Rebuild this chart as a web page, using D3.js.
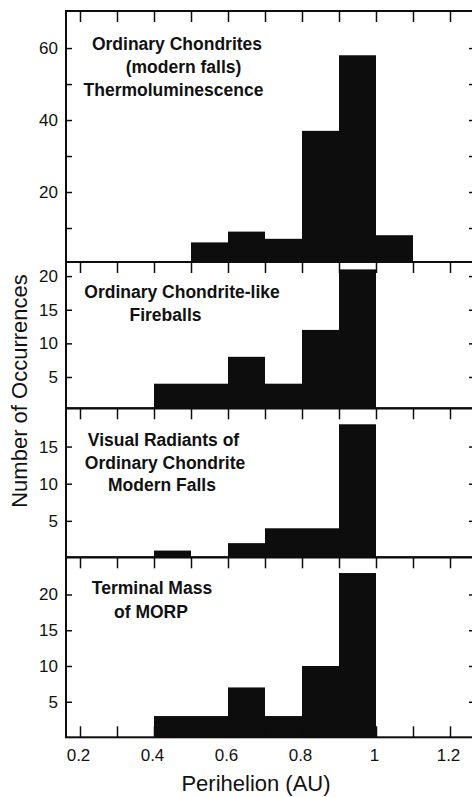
<!DOCTYPE html>
<html>
<head>
<meta charset="utf-8">
<script src="https://cdn.jsdelivr.net/npm/d3@7"></script>
<style>
  html, body { margin: 0; padding: 0; background: #fff; }
  svg { display: block; }
  text { font-family: "Liberation Sans", Arial, Helvetica, sans-serif; fill: #111; }
</style>
</head>
<body>
<svg id="chart" width="472" height="797"></svg>
<script>
// ---------------- data ----------------
const binStarts = [0.4, 0.5, 0.6, 0.7, 0.8, 0.9, 1.0];
const binWidth = 0.1;
const thermoCounts   = [0, 6, 9, 7, 37, 58, 8];
const fireballCounts = [4, 4, 8, 4, 12, 21, 0];
const radiantCounts  = [1, 0, 2, 4, 4, 18, 0];
const morpCounts     = [3, 3, 7, 3, 10, 23, 0];

const thermoTitle   = ["Ordinary Chondrites", "(modern falls)", "Thermoluminescence"];
const fireballTitle = ["Ordinary Chondrite-like", "Fireballs"];
const radiantTitle  = ["Visual Radiants of", "Ordinary Chondrite", "Modern Falls"];
const morpTitle     = ["Terminal Mass", "of MORP"];

const thermoYMajor = [20, 40, 60];
const thermoYMinor = [10, 30, 50];
const fireballYTicks = [5, 10, 15, 20];
const radiantYTicks  = [5, 10, 15];
const morpYTicks     = [5, 10, 15, 20];
const yMaxes = [70.3, 22.1, 20.15, 25.2];

const xTickValues = [0.2, 0.3, 0.4, 0.5, 0.6, 0.7, 0.8, 0.9, 1.0, 1.1, 1.2];
const xLabelValues = [0.2, 0.4, 0.6, 0.8, 1.0, 1.2];
const xLabelTexts  = ["0.2", "0.4", "0.6", "0.8", "1", "1.2"];
const xTitle = "Perihelion (AU)";
const yTitle = "Number of Occurrences";

// ---------------- layout ----------------
const frameLeft = 66, frameRight = 478;
const panelTops    = [11, 262, 408.3, 557.3];
const panelBottoms = [262, 408.3, 557.3, 737.3];
const zeroYs       = [264, 410.6, 558, 737.5];
const titleLayout = [
  { xs: [177, 183.5, 173.5], ys: [50, 73, 96] },
  { xs: [182, 165.5], ys: [298.3, 320.7] },
  { xs: [163.5, 165, 162], ys: [445.7, 469, 490.7] },
  { xs: [152, 151], ys: [594, 618.3] }
];

const panels = [
  { counts: thermoCounts, title: thermoTitle, major: thermoYMajor, minor: thermoYMinor },
  { counts: fireballCounts, title: fireballTitle, major: fireballYTicks, minor: [] },
  { counts: radiantCounts, title: radiantTitle, major: radiantYTicks, minor: [] },
  { counts: morpCounts, title: morpTitle, major: morpYTicks, minor: [] }
];

const svg = d3.select("#chart");
const x = d3.scaleLinear().domain([0.2, 1.2]).range([80, 450]);
const ink = "#0d0d0d";

panels.forEach((p, i) => {
  const y = d3.scaleLinear().domain([0, yMaxes[i]]).range([zeroYs[i], panelTops[i]]);
  const g = svg.append("g");

  // bars
  g.selectAll("rect.bar")
    .data(binStarts.map((b, k) => ({ x0: b, x1: b + binWidth, v: p.counts[k] })).filter(d => d.v > 0))
    .join("rect")
    .attr("class", "bar")
    .attr("x", d => x(d.x0))
    .attr("width", d => x(d.x1) - x(d.x0))
    .attr("y", d => y(d.v))
    .attr("height", d => Math.max(0, panelBottoms[i] - y(d.v)))
    .attr("fill", ink);

  // left axis (labelled)
  const left = g.append("g").attr("transform", `translate(${frameLeft},0)`)
    .call(d3.axisLeft(y).tickValues(p.major).tickSize(-6).tickPadding(8).tickFormat(d3.format("d")));
  left.select(".domain").remove();
  left.selectAll("line").attr("stroke", ink).attr("stroke-width", 1.5);
  left.selectAll("text").attr("font-size", 17).attr("fill", ink);

  if (p.minor.length) {
    const leftMin = g.append("g").attr("transform", `translate(${frameLeft},0)`)
      .call(d3.axisLeft(y).tickValues(p.minor).tickSize(-6).tickFormat(""));
    leftMin.select(".domain").remove();
    leftMin.selectAll("line").attr("stroke", ink).attr("stroke-width", 1.5);
  }

  // right axis (unlabelled)
  const right = g.append("g").attr("transform", `translate(${frameRight},0)`)
    .call(d3.axisRight(y).tickValues(p.major.concat(p.minor)).tickSize(-9).tickFormat(""));
  right.select(".domain").remove();
  right.selectAll("line").attr("stroke", ink).attr("stroke-width", 1.5);

  // top ticks of each panel
  const top = g.append("g").attr("transform", `translate(0,${panelTops[i]})`)
    .call(d3.axisTop(x).tickValues(xTickValues).tickSize(-11).tickFormat(""));
  top.select(".domain").remove();
  top.selectAll("line").attr("stroke", ink).attr("stroke-width", 1.5);

  // frame
  g.append("rect")
    .attr("x", frameLeft).attr("y", panelTops[i])
    .attr("width", frameRight - frameLeft).attr("height", panelBottoms[i] - panelTops[i])
    .attr("fill", "none").attr("stroke", ink).attr("stroke-width", 2);

  // title
  const tl = titleLayout[i];
  g.selectAll("text.ptitle")
    .data(p.title)
    .join("text")
    .attr("class", "ptitle")
    .attr("x", (d, k) => tl.xs[k])
    .attr("y", (d, k) => tl.ys[k])
    .attr("text-anchor", "middle")
    .attr("font-size", 17.5)
    .attr("font-weight", "bold")
    .text(d => d);

  // bottom axis on last panel
  if (i === panels.length - 1) {
    const labelMap = new Map(xLabelValues.map((v, k) => [v.toFixed(1), xLabelTexts[k]]));
    const bottom = g.append("g").attr("transform", `translate(0,${panelBottoms[i]})`)
      .call(d3.axisBottom(x).tickValues(xTickValues).tickSize(-11).tickPadding(12)
        .tickFormat(d => labelMap.get(d.toFixed(1)) || ""));
    bottom.select(".domain").remove();
    bottom.selectAll("line").attr("stroke", ink).attr("stroke-width", 1.5);
    bottom.selectAll("text").attr("font-size", 17).attr("dx", -2).attr("fill", ink);
  }
});

// axis titles
svg.append("text")
  .attr("x", 256).attr("y", 791)
  .attr("text-anchor", "middle")
  .attr("font-size", 22)
  .text(xTitle);

svg.append("text")
  .attr("transform", "translate(27,391) rotate(-90)")
  .attr("text-anchor", "middle")
  .attr("font-size", 22)
  .text(yTitle);
</script>
</body>
</html>
